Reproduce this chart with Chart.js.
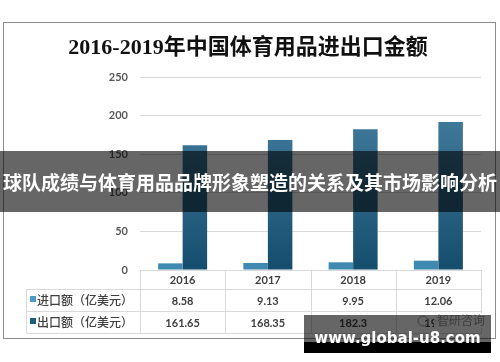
<!DOCTYPE html>
<html><head><meta charset="utf-8">
<script src="https://cdn.jsdelivr.net/npm/chart.js@4.4.1/dist/chart.umd.min.js"></script>
<style>
html,body{margin:0;padding:0;background:#fff;width:500px;height:362px;overflow:hidden;}
#wrap{position:relative;width:500px;height:362px;}
#c{position:absolute;left:0;top:0;}
#banner{position:absolute;left:0;top:151px;width:500px;height:61px;background:rgba(0,0,0,0.6);color:#fff;font-family:'Noto Sans CJK SC';font-weight:bold;font-size:19px;display:flex;align-items:center;justify-content:center;white-space:nowrap;}
#wm{position:absolute;left:304px;top:315px;width:187px;height:27px;background:rgba(0,0,0,0.6);}
#wmb{position:absolute;left:304px;top:342px;width:187px;height:11px;background:#000;}
#wmt{position:absolute;left:304px;top:331px;width:187px;height:15px;line-height:15px;color:#fff;font-family:'DejaVu Sans';font-weight:bold;font-size:15px;text-align:center;white-space:nowrap;}
</style>
</head><body>
<div id="wrap">
<canvas id="c" width="500" height="362"></canvas>
<div id="banner">球队成绩与体育用品品牌形象塑造的关系及其市场影响分析</div>
<div id="wm"></div><div id="wmb"></div>
<div id="wmt">www.global-u8.com</div>
</div>
<script>
const chartTitle = '2016-2019年中国体育用品进出口金额';
const years = ['2016', '2017', '2018', '2019'];
const importVals = [8.58, 9.13, 9.95, 12.06];
const exportVals = [161.65, 168.35, 182.3, 191.7];
const importLabels = ['8.58', '9.13', '9.95', '12.06'];
const exportLabels = ['161.65', '168.35', '182.3', '191.7'];
const seriesNames = ['进口额（亿美元）', '出口额（亿美元）'];
const yTicks = [0, 50, 100, 150, 200, 250];
const logoText = '智研咨询';

const importColor = '#4f9ac2';
const exportColor = '#1f5b7b';

function vgrad(c0, c1) {
  return function (ctx) {
    const ch = ctx.chart, a = ch.chartArea;
    if (!a) return c1;
    const g = ch.ctx.createLinearGradient(0, a.top, 0, a.bottom);
    g.addColorStop(0, c0); g.addColorStop(1, c1);
    return g;
  };
}

const extras = {
  id: 'extras',
  afterDraw(chart) {
    const ctx = chart.ctx, a = chart.chartArea;
    const L = a.left, R = a.right, n = years.length, cw = (R - L) / n;
    const y0 = a.bottom, y1 = y0 + 19, y2 = y1 + 22, y3 = y2 + 22;
    ctx.save();
    ctx.strokeStyle = '#8c8c8c'; ctx.lineWidth = 1;
    ctx.strokeRect(3.5, 22.5, 492, 316);
    ctx.fillStyle = '#111';
    ctx.font = 'bold 22px "Liberation Serif", "Noto Sans CJK SC"';
    ctx.textAlign = 'center'; ctx.textBaseline = 'middle';
    ctx.fillText(chartTitle, 248, 48);
    ctx.strokeStyle = '#d9d9d9';
    ctx.beginPath();
    [y1, y2, y3].forEach(y => { ctx.moveTo(26, Math.round(y) + 0.5); ctx.lineTo(R, Math.round(y) + 0.5); });
    ctx.moveTo(26.5, y1); ctx.lineTo(26.5, y3);
    for (let i = 0; i <= n; i++) {
      const x = Math.round(L + i * cw) + 0.5;
      ctx.moveTo(x, y0); ctx.lineTo(x, y3 + 0.5);
    }
    ctx.stroke();
    ctx.fillStyle = '#404040';
    ctx.font = 'bold 11px Lato';
    const xs = chart.scales.x;
    years.forEach((yr, i) => {
      const cx = xs.getPixelForValue(i);
      ctx.fillText(yr, cx, (y0 + y1) / 2 + 1);
      ctx.fillText(importLabels[i], cx, (y1 + y2) / 2 + 1);
      ctx.fillText(exportLabels[i], cx, (y2 + y3) / 2 + 1);
    });
    ctx.fillStyle = importColor; ctx.fillRect(30, 296, 6, 6);
    ctx.fillStyle = exportColor; ctx.fillRect(30, 318, 6, 6);
    ctx.fillStyle = '#404040';
    ctx.font = '500 12px "Noto Sans CJK SC"';
    ctx.textAlign = 'left';
    ctx.fillText(seriesNames[0], 37, (y1 + y2) / 2);
    ctx.fillText(seriesNames[1], 37, (y2 + y3) / 2);
    ctx.fillStyle = 'rgba(255,255,255,0.85)';
    ctx.fillRect(434, 313, 52, 15);
    ctx.strokeStyle = '#9a9a9a';
    ctx.beginPath(); ctx.arc(423, 321, 5, 0, Math.PI * 2); ctx.stroke();
    ctx.fillStyle = '#9a9a9a';
    ctx.font = '12px "Noto Sans CJK SC"';
    ctx.fillText(logoText, 437, 320);
    ctx.restore();
  }
};

new Chart(document.getElementById('c'), {
  type: 'bar',
  data: {
    labels: years,
    datasets: [
      { label: seriesNames[0], data: importVals, backgroundColor: vgrad('#66acd0', '#3f88b0') },
      { label: seriesNames[1], data: exportVals, backgroundColor: vgrad('#4c84a6', '#154e6d') }
    ]
  },
  options: {
    responsive: false,
    animation: false,
    events: [],
    layout: { padding: { top: 77, bottom: 92, left: 0, right: 19 } },
    datasets: { bar: { categoryPercentage: 0.575, barPercentage: 1.0 } },
    plugins: { legend: { display: false }, tooltip: { enabled: false }, title: { display: false } },
    scales: {
      x: { display: false, offset: true },
      y: {
        min: 0, max: 250,
        afterBuildTicks: s => { s.ticks = yTicks.map(v => ({ value: v })); },
        afterFit: s => { s.width = 140; },
        ticks: { padding: 12, color: '#595959', font: { family: 'Lato', size: 11, weight: 'bold' } },
        grid: { color: '#d9d9d9', drawTicks: false, lineWidth: 1 },
        border: { display: false }
      }
    }
  },
  plugins: [extras]
});
</script>
</body></html>
